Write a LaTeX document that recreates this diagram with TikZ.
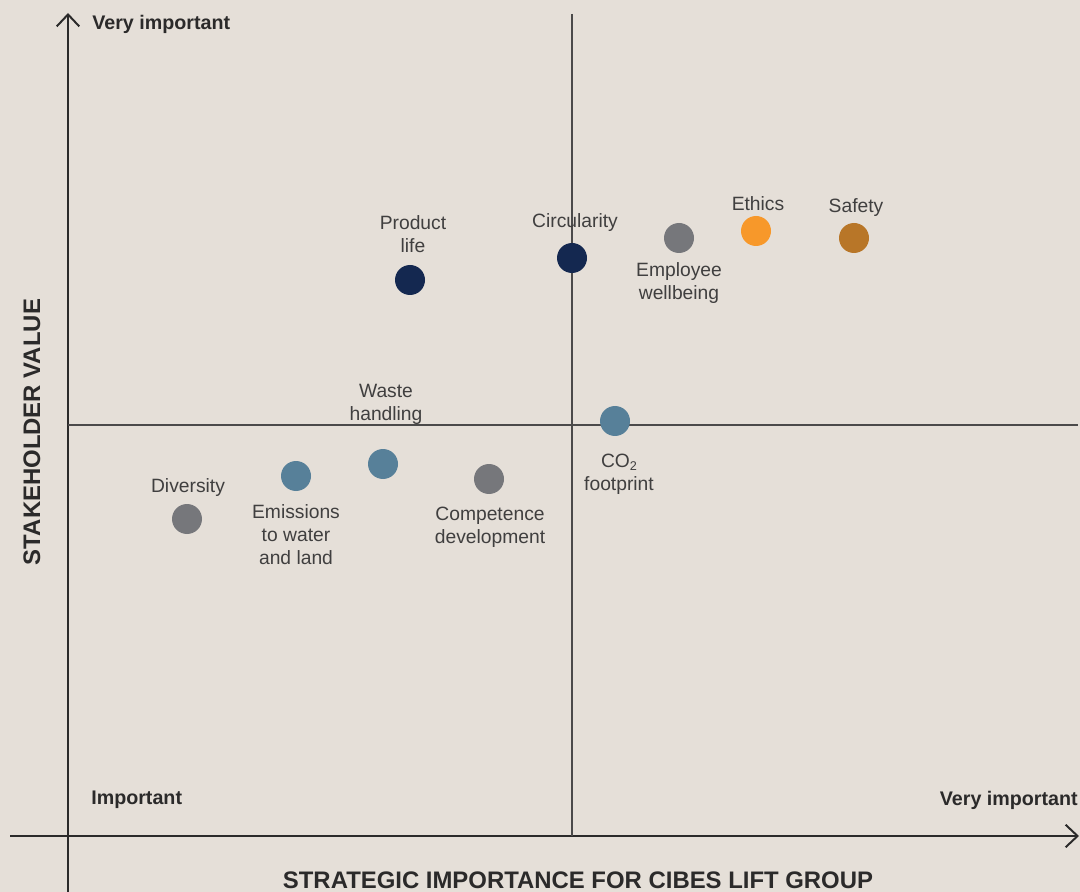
\documentclass[tikz,border=0pt]{standalone}
\usepackage{fontspec}
\setmainfont{Liberation Sans}
\usetikzlibrary{arrows.meta}
\definecolor{paper}{HTML}{E5DFD8}
\definecolor{navy}{HTML}{142850}
\definecolor{slate}{HTML}{76777B}
\definecolor{teal}{HTML}{578099}
\definecolor{amber}{HTML}{F7982A}
\definecolor{ochre}{HTML}{B87628}
\definecolor{ink}{HTML}{2B2A2A}
\tikzset{
  bubble/.style={circle, minimum size=30*0.025cm, inner sep=0pt},
  lbl/.style={text=ink!90, align=center, inner sep=0pt, font=\fontsize{13.7}{16.3}\selectfont},
  axlbl/.style={text=ink, inner sep=0pt, font=\fontsize{14}{16}\selectfont\bfseries},
  axtitle/.style={text=ink, inner sep=0pt, font=\fontsize{17}{19}\selectfont\bfseries},
  axis/.style={draw=ink, line width=1.4pt, -{Straight Barb[length=8.5pt,width=16pt,line width=1.4pt]}},
  quad/.style={draw=ink!85, line width=0.8pt}
}
\begin{document}
\begin{tikzpicture}[x=0.025cm, y=-0.025cm]
			%%%%% START %%%%%
			
			\fill[paper] (0, 0) rectangle (1080, 892);
			\useasboundingbox (0, 0) rectangle (1080, 892);
			
			% axes
			\coordinate (ybot) at (68, 892);
			\coordinate (ytop) at (68, 13);
			\coordinate (xlft) at (10, 836);
			\coordinate (xrgt) at (1079, 836);
			\draw[axis] (ybot) -- (ytop);
			\draw[axis] (xlft) -- (xrgt);
			
			% quadrants
			\coordinate (qtop) at (572, 14);
			\coordinate (qbot) at (572, 836);
			\coordinate (qlft) at (68, 425);
			\coordinate (qrgt) at (1078, 425);
			\draw[quad] (qtop) -- (qbot);
			\draw[quad] (qlft) -- (qrgt);
			
			% axis labels
			\node[axlbl, anchor=west] (yhigh) at (92, 24) {Very important};
			\node[axlbl, anchor=west] (low) at (91, 800) {Important};
			\node[axlbl, anchor=east] (xhigh) at (1078, 800) {Very important};
			\node[axtitle, rotate=90] (ytitle) at (32, 432) {STAKEHOLDER VALUE};
			\node[axtitle] (xtitle) at (578, 880) {STRATEGIC IMPORTANCE FOR CIBES LIFT GROUP};
			
			% topics
			\node[bubble, fill=navy] (prodlife) at (410, 280) {};
			\node[lbl] (prodlifet) at (413, 234) {Product\\life};
			
			\node[bubble, fill=navy] (circ) at (572, 258) {};
			\node[lbl] (circt) at (575, 223) {Circularity};
			
			\node[bubble, fill=slate] (empl) at (679, 238) {};
			\node[lbl] (emplt) at (679, 283) {Employee\\wellbeing};
			
			\node[bubble, fill=amber] (ethics) at (756, 231) {};
			\node[lbl] (ethicst) at (758, 204) {Ethics};
			
			\node[bubble, fill=ochre] (safety) at (854, 238) {};
			\node[lbl] (safetyt) at (856, 208) {Safety};
			
			\node[bubble, fill=teal] (waste) at (383, 464) {};
			\node[lbl] (wastet) at (386, 404) {Waste\\handling};
			
			\node[bubble, fill=teal] (co2) at (615, 421) {};
			\node[lbl] (co2t) at (619, 474) {CO\raisebox{-0.35ex}{\fontsize{9}{10}\selectfont 2}\\footprint};
			
			\node[bubble, fill=slate] (div) at (187, 519) {};
			\node[lbl] (divt) at (188, 488) {Diversity};
			
			\node[bubble, fill=teal] (emis) at (296, 476) {};
			\node[lbl] (emist) at (296, 535) {Emissions\\to water\\and land};
			
			\node[bubble, fill=slate] (comp) at (489, 479) {};
			\node[lbl] (compt) at (490, 527) {Competence\\development};
			
			%%%%% END %%%%%
\end{tikzpicture}
\end{document}
